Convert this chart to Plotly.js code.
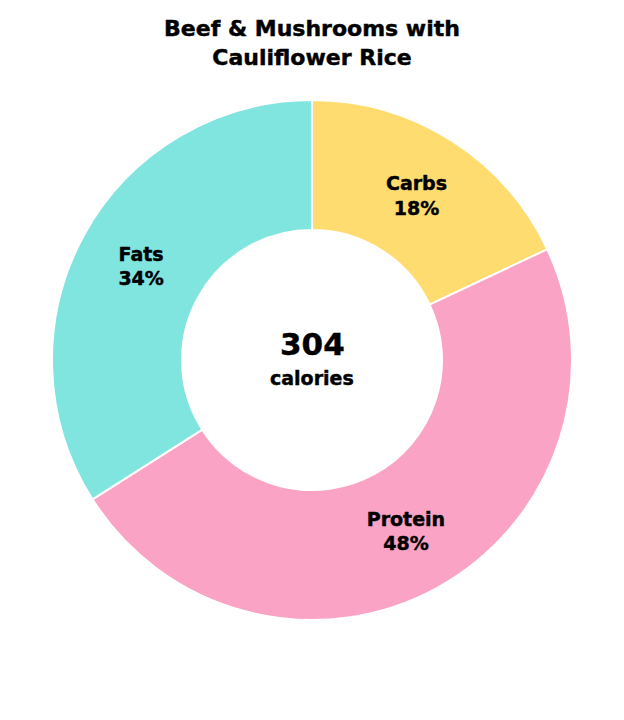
<!DOCTYPE html>
<html>
<head>
<meta charset="utf-8">
<script src="https://cdn.plot.ly/plotly-3.0.1.min.js"></script>
<style>
html,body{margin:0;padding:0;background:#fff;}
#chart{width:624px;height:720px;}
#chart text{stroke:#000;stroke-width:0.45px;}
</style>
</head>
<body>
<div id="chart"></div>
<script>
const labels = ["Carbs", "Protein", "Fats"];
const values = [18, 48, 34];
const colors = ["#FEDC6F", "#FBA3C4", "#80E5DF"];
const totalCalories = 304;
const titleText = "Beef & Mushrooms with<br>Cauliflower Rice";

const FONT = "'DejaVu Sans', sans-serif";

const data = [{
  type: "pie",
  labels: labels,
  values: values,
  hole: 0.5,
  sort: false,
  direction: "clockwise",
  rotation: 0,
  marker: {colors: colors, line: {color: "#ffffff", width: 2}},
  texttemplate: "%{label}<br>%{percent:.0%}",
  textposition: "inside",
  insidetextorientation: "horizontal",
  textfont: {family: FONT, size: 19, color: "#000000", weight: "bold"},
  hoverinfo: "none",
  showlegend: false
}];

const layout = {
  width: 624,
  height: 720,
  margin: {l: 0, r: 0, t: 100, b: 100},
  paper_bgcolor: "#ffffff",
  plot_bgcolor: "#ffffff",
  title: {
    text: titleText,
    font: {family: FONT, size: 22, color: "#000000", weight: "bold"},
    x: 0.5, xanchor: "center",
    yref: "container", y: 1 - 36/720, yanchor: "middle"
  },
  annotations: [
    {text: String(totalCalories), x: 0.5, y: 0.5, xref: "paper", yref: "paper",
     xanchor: "center", yanchor: "middle", yshift: 16, showarrow: false,
     font: {family: FONT, size: 31, color: "#000000", weight: "bold"}},
    {text: "calories", x: 0.5, y: 0.5, xref: "paper", yref: "paper",
     xanchor: "center", yanchor: "middle", yshift: -18, showarrow: false,
     font: {family: FONT, size: 19, color: "#000000", weight: "bold"}}
  ]
};

Plotly.newPlot("chart", data, layout, {displayModeBar: false, staticPlot: true});
</script>
</body>
</html>
